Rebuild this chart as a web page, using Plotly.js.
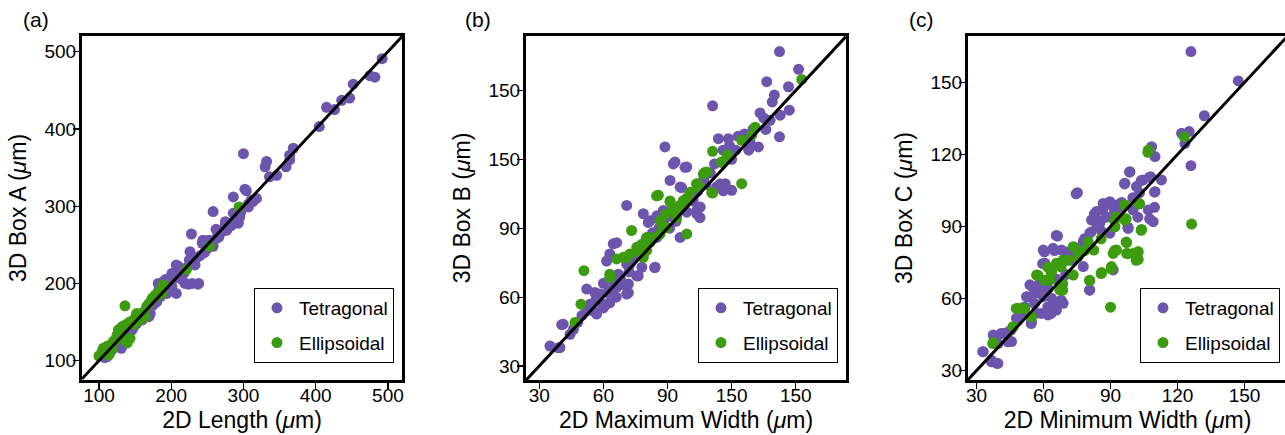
<!DOCTYPE html>
<html>
<head>
<meta charset="utf-8">
<script src="https://cdn.plot.ly/plotly-3.0.1.min.js"></script>
<style>
  html, body { margin: 0; padding: 0; background: #fff; overflow: hidden; }
  #chart { width: 1292px; height: 435px; }
</style>
</head>
<body>
<div id="chart"></div>
<script>
// ---------------- DATA ----------------
const seriesNames = ["Tetragonal", "Ellipsoidal"];

// Panel (a): 2D Length vs 3D Box A (µm)
const aTetraX = [492,475,482,452,447,436,426,415,405,369,364,359,364,332,330,346,336,300,304,313,307,293,286,258,286,277,267,228,244,258,226,235,207,221,224,237,219,207,194,182,189,171,157,148,131,111,115,
  302,311,307,275,270,266,289,295,252,243,210,201,238,229,215,192,187,183,201,169,160,146,132,118,105,
  125,140,152,162,175,180,196,205,212,218,230,240,250,255,262,272,280,290,296,318,228,246,200,165,155,142,137,120,108,185,195,213,225,233,262,275,283];
const aTetraY = [491,469,467,458,440,437,425,428,403,375,366,351,360,358,351,340,338,368,320,306,299,278,312,293,291,269,265,264,256,248,241,233,224,220,199,199,200,187,187,200,202,161,153,144,116,105,110,
  322,308,303,276,269,260,282,286,256,252,222,213,200,200,205,205,198,192,196,157,153,140,119,114,112,
  122,135,148,160,172,176,192,207,212,214,228,236,245,250,258,268,277,288,292,310,226,240,205,165,152,140,132,118,104,183,190,218,230,224,270,280,275];
const aEllipX = [294,253,221,189,180,173,166,136,152,157,145,127,136,143,120,106,101,113,187,169,164,141,132,128,132,139,123,112,105,100,114,178,174,160,150,148,118,125,184];
const aEllipY = [299,248,218,198,183,179,170,171,161,153,151,140,146,129,125,116,107,109,187,174,157,149,144,136,129,123,127,119,112,106,108,185,181,162,155,147,115,133,190];

// Panel (b): 2D Maximum Width vs 3D Box B (µm)
const bTetraX = [142.4,151.3,136.4,146.6,111.1,133.3,147,142.7,138,142.4,132.5,128.6,125.5,113.8,118.5,116,120,88.8,93.5,99,91.2,95.9,120,117,113,70.9,78.7,81.8,88,103.7,105.3,102,95.9,64.6,63,70.9,76.3,84.2,71.7,70.9,66.2,52.2,58.4,61.5,52.2,56.8,41.2,44.4,39.7,35,
  92.7,98.2,96.6,81,85,66.2,72.4,75.6,84,71.7,61.5,69.3,56.8,63,60,53.7,55.3,40.5,38.9,103.6,105.2,102,114.6,116.1,
  58,62,65,67,74,77,80,83,86,88,90,93,97,100,104,107,110,112,122,126,130,135,139,60,48,50,54,46,68,72,79,85,91,94,99,108,128,119,123,136,140,63,66,78,56];
const bTetraY = [166.9,159.2,153.8,151.6,143.3,140.2,141.4,139.2,137,129.8,125.4,127.6,129,129,129,124,120,125.4,118.8,116.6,110.8,107.9,106.5,109.4,108,99.9,96.3,93.3,97.7,96.3,99.2,103.5,86,83.2,78.8,74.4,69.3,73,65.7,61.3,64.2,63.5,61.3,57,54,52.6,48.2,43.8,38,38.7,
  118,116.5,107.7,92.5,95.4,83.7,74.3,69.2,72.8,61.9,75.7,65.5,59.7,57.5,55.3,56.8,53.9,48,37.9,97.6,94.6,101.9,109.2,106.3,
  58,62,66,70,78,82,85,88,90,92,95,97,100,104,106,112,114,118,124,131,133,138,145,66,49,52,57,46,68,71,80,86,90,93,97,109,124,126,130,133,148,63,60,73,62];
const bEllipX = [152.8,129.4,124.7,111.1,115.4,108.3,106.8,124.7,111.1,103.7,100.6,85.7,91.2,94.3,97.4,99,86.5,88,83.4,73.2,75.6,72.4,69.3,66.2,63,63,50.9,49.5,46.7,80.2,78.7,
  84.9,110.7,103.6,91.2,94.3,89.6,86.5,80.2,70.9,107.5,115.3,89,92,96,99,82,76,78,105,118,131];
const bEllipY = [154.8,130.5,128.3,123.5,118.8,114.5,113.7,109.4,105.3,109.4,105.7,104.3,101.4,98.4,102,87.5,93.3,90.4,86,89,81.7,78.8,77.3,76.6,70,68.6,71.5,56.9,48.9,80.2,77.3,
  104.1,105.6,109.2,101.9,94.6,90.3,87.4,85.9,77.2,114.3,118.7,96,98,100,103,84,80,83,108,122,134];

// Panel (c): 2D Minimum Width vs 3D Box C (µm)
const cTetraX = [126,147.2,132,121.8,125.2,123.3,126,108.4,109.9,98.7,96.4,101.6,104.6,108,112.8,109.9,75.2,106.9,109.1,97.9,100.1,86.7,89.7,92.7,83.7,81.5,85.2,89.7,66.3,59.9,64.3,68.1,77.8,80.7,60.6,77.8,91.2,80.7,53.9,56.1,52.4,59.9,64.3,62,56.9,63.6,54.6,47.9,41.9,45.7,37.5,33,36.7,39,68.8,65.8,
  98.5,96.3,103.7,107.5,109.7,109.7,107.5,97.8,102.2,89.6,86.6,82.8,84.3,88.1,91.8,94,74.6,65.7,60.4,64.9,70.9,59.6,78.4,81.3,77,55.2,53,56,59,51.5,61.9,63.4,59,64.9,54.5,48.5,45.5,41,39.6,44,38,32.8,36.6,39.6,80.6,67.9,
  72,74,70,66,62,58,86,88,93,95,100,103,79,84,57,50,44];
const cTetraY = [162.8,150.6,136.1,128.8,129.5,124.6,115.3,123.2,119.1,112.8,108,106.6,109.4,110.7,109.4,104.5,104.1,96.9,92,89.2,96.9,99.6,100.3,99,96.2,92.7,91.3,87.2,86,80.2,80.9,80.2,83.7,87.2,74.7,73.3,71.9,63.6,65.7,62.2,60.8,60.8,56.6,53.2,53.9,60.1,50.4,51.8,45.5,42.1,44.8,37.9,33.7,33.1,58,55.2,
  112.6,107.7,109.1,110.5,104.3,98,93.2,89.7,93.9,99.4,97.3,95.3,92.5,93.9,96.7,98,103.6,86.3,79.4,80,79.4,74.5,84.9,87.7,81.4,64.8,60.7,57.9,62.1,56.5,56.5,53.8,53.8,57.9,49.6,51,46.9,45.5,41.3,42,43.4,37.9,34.4,33,63.5,59.3,
  76,78,70,68,64,66,88,94,96,100,102,104,82,90,63,54,46];
const cEllipX = [123,106.9,126.3,103.9,102.8,96.4,96.4,92.7,92,97.2,97.2,92.7,91.2,102.4,102.4,100.1,90.4,86,80.7,90,73.3,75.5,80,82.5,68.8,65.8,63.6,62.8,56.9,73.3,68.1,67.3,48.7,51.6,54.6,46.4,37.5,
  106.7,96.3,103,103.7,91.8,97,85.8,97,91.8,97.8,102.2,101.5,90.3,85.8,80.6,73.9,78.4,75.4,70.9,67.9,61.9,57.5,60.4,68.6,68.6,63.4,47.8,50.7,54.5,46.3,37.3];
const cEllipY = [127.4,121.8,91,88.8,99.6,99,92.7,94.1,89.9,83.3,78.8,80.2,78.8,79.5,76.3,78.8,73.3,70.8,67.5,56.4,81.6,78.8,83.7,80.2,76.1,74.7,71.2,67.7,69.8,69.8,65,63.6,55.9,55.9,52.5,48.3,41.7,
  120.9,98.7,99.4,88.4,92.5,93.2,84.9,83.5,80,78.7,79.4,75.9,72.4,70.4,67.6,81.4,80,77.3,75.9,73.1,73.1,69.7,67.6,66.2,63.5,70.4,55.9,55.9,52.4,48.2,41.3];

// Axis tick labels
const tickValsA = [100, 200, 300, 400, 500];
const tickTextA = ["100", "200", "300", "400", "500"];
const tickValsB = [30, 60, 90, 120, 150];
const tickTextB = ["30", "60", "90", "150", "150"];
const tickValsC = [30, 60, 90, 120, 150];
const tickTextC = ["30", "60", "90", "120", "150"];

const xTitles = ["2D Length (<i>μ</i>m)", "2D Maximum Width (<i>μ</i>m)", "2D Minimum Width (<i>μ</i>m)"];
const yTitles = ["3D Box A (<i>μ</i>m)", "3D Box B (<i>μ</i>m)", "3D Box C (<i>μ</i>m)"];
const panelLabels = ["(a)", "(b)", "(c)"];

// ---------------- STYLE / LAYOUT ----------------
const W = 1292, H = 435;
const FONT = "Liberation Sans, Arial, Helvetica, sans-serif";
const PURPLE = "#6d55ad", GREEN = "#3d9b0f";
const fx = px => px / W;
const fy = py => 1 - py / H;

const panels = [
  { tx: aTetraX, ty: aTetraY, ex: aEllipX, ey: aEllipY, xr: [76.5, 519.5], yr: [75, 520.3], tv: tickValsA, tt: tickTextA, left: 82, right: 402, legRight: 394, labelX: 35.5 },
  { tx: bTetraX, ty: bTetraY, ex: bEllipX, ey: bEllipY, xr: [23.8, 173.5], yr: [23.9, 173.7], tv: tickValsB, tt: tickTextB, left: 526, right: 846, legRight: 838, labelX: 478 },
  { tx: cTetraX, ty: cTetraY, ex: cEllipX, ey: cEllipY, xr: [26.2, 169], yr: [26.1, 169.3], tv: tickValsC, tt: tickTextC, left: 968, right: 1287, legRight: 1280, labelX: 921 }
];
const plotTop = 36, plotBottom = 380;

const traces = [];
const layout = {
  width: W, height: H,
  margin: { l: 0, r: 0, t: 0, b: 0 },
  paper_bgcolor: "white", plot_bgcolor: "white",
  font: { family: FONT, color: "black" },
  showlegend: true,
  annotations: []
};

panels.forEach((p, i) => {
  const n = i === 0 ? "" : String(i + 1);
  const xa = "x" + n, ya = "y" + n;
  const legName = "legend" + n;
  traces.push({
    type: "scatter", mode: "markers", x: p.tx, y: p.ty, xaxis: xa, yaxis: ya,
    name: seriesNames[0], legend: legName, legendgroup: "t" + i,
    marker: { color: PURPLE, size: 11, line: { width: 0 } }
  });
  traces.push({
    type: "scatter", mode: "markers", x: p.ex, y: p.ey, xaxis: xa, yaxis: ya,
    name: seriesNames[1], legend: legName, legendgroup: "e" + i,
    marker: { color: GREEN, size: 11, line: { width: 0 } }
  });
  // 1:1 reference line spanning the visible axis range
  const lo = Math.max(p.xr[0], p.yr[0]), hi = Math.min(p.xr[1], p.yr[1]);
  traces.push({
    type: "scatter", mode: "lines", x: [lo, hi], y: [lo, hi], xaxis: xa, yaxis: ya,
    showlegend: false, hoverinfo: "skip", line: { color: "black", width: 3 }
  });

  const common = {
    showline: true, linewidth: 3, linecolor: "black", mirror: true,
    ticks: "outside", ticklen: 6, tickwidth: 1.2, tickcolor: "black",
    showgrid: false, zeroline: false,
    tickfont: { size: 19, color: "black", family: FONT },
    tickmode: "array", tickvals: p.tv, ticktext: p.tt
  };
  layout["xaxis" + n] = Object.assign({}, common, {
    domain: [fx(p.left), fx(p.right)], range: p.xr, anchor: ya,
    ticklabelstandoff: -10,
    title: { text: xTitles[i], font: { size: 23, color: "black", family: FONT }, standoff: 8 }
  });
  layout["yaxis" + n] = Object.assign({}, common, {
    domain: [fy(plotBottom), fy(plotTop)], range: p.yr, anchor: xa,
    ticklabelstandoff: -7,
    title: { text: yTitles[i], font: { size: 23, color: "black", family: FONT }, standoff: 12 }
  });
  layout[legName] = {
    x: fx(p.legRight), xanchor: "right", xref: "paper",
    y: fy(363), yanchor: "bottom", yref: "paper",
    bgcolor: "white", bordercolor: "black", borderwidth: 1,
    font: { size: 19, color: "black", family: FONT },
    tracegroupgap: 7, traceorder: "grouped", itemwidth: 34
  };
  layout.annotations.push({
    text: panelLabels[i], xref: "paper", yref: "paper",
    x: fx(p.labelX), y: fy(20), xanchor: "center", yanchor: "middle",
    showarrow: false, font: { size: 21, color: "black", family: FONT }
  });
});

Plotly.newPlot("chart", traces, layout, { displayModeBar: false, staticPlot: true });
</script>
</body>
</html>
